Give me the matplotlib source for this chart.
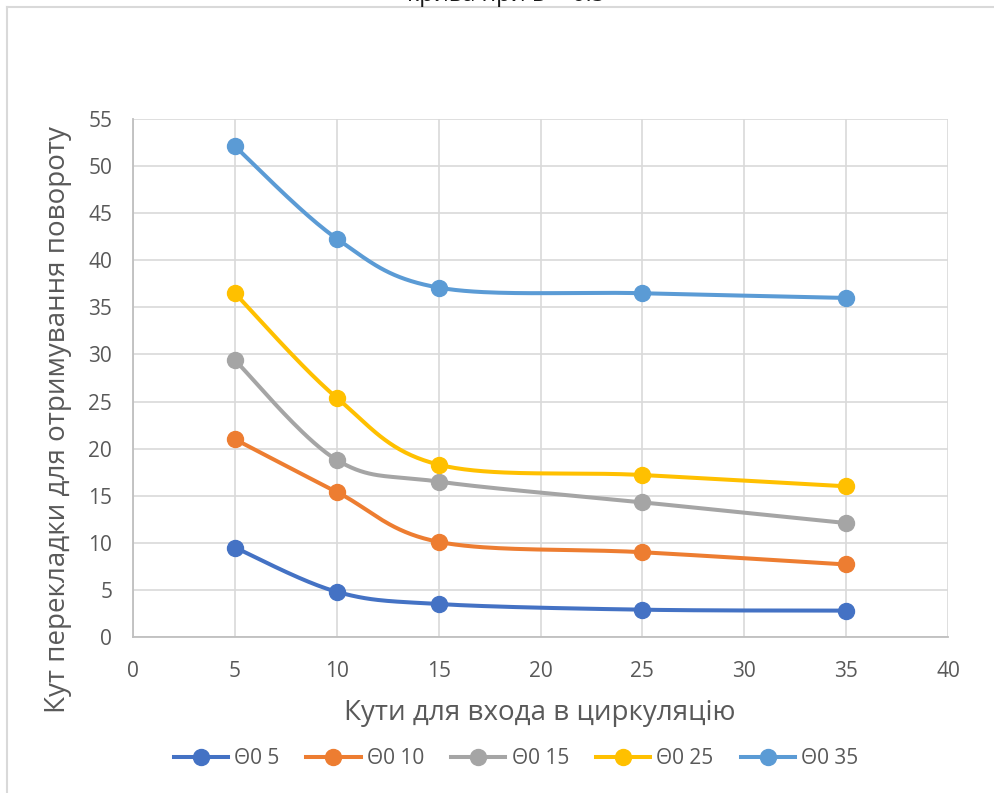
import numpy as np
import matplotlib
matplotlib.use("Agg")
import matplotlib.pyplot as plt
from matplotlib.lines import Line2D

plt.rcParams['font.family'] = ['Open Sans', 'DejaVu Sans']

# circulation entry angles and the resulting shift angle per initial theta
x_angles = [5, 10, 15, 25, 35]
theta_5 = [9.5, 4.8, 3.5, 2.9, 2.8]
theta_10 = [21.0, 15.4, 10.1, 9.0, 7.7]
theta_15 = [29.4, 18.8, 16.5, 14.3, 12.1]
theta_25 = [36.5, 25.4, 18.3, 17.2, 16.0]
theta_35 = [52.1, 42.3, 37.1, 36.5, 36.0]

series_names = ["Θ0 5", "Θ0 10", "Θ0 15", "Θ0 25", "Θ0 35"]
series_vals = [theta_5, theta_10, theta_15, theta_25, theta_35]
colors = ["#4472C4", "#ED7D31", "#A5A5A5", "#FFC000", "#5B9BD5"]

TXT = "#595959"
GRID = "#D9D9D9"
W, H = 995, 793


def smooth(xs, ys, n=40):
    # Catmull-Rom style bezier smoothing through every point
    xs = np.asarray(xs, float)
    ys = np.asarray(ys, float)
    px = np.concatenate([[xs[0]], xs, [xs[-1]]])
    py = np.concatenate([[ys[0]], ys, [ys[-1]]])
    out_x, out_y = [], []
    t = np.linspace(0, 1, n)
    for i in range(1, len(px) - 2):
        p0 = np.array([px[i], py[i]])
        p3 = np.array([px[i + 1], py[i + 1]])
        c1 = p0 + (p3 - np.array([px[i - 1], py[i - 1]])) / 6
        c2 = p3 - (np.array([px[i + 2], py[i + 2]]) - p0) / 6
        b = ((1 - t) ** 3)[:, None] * p0 + (3 * (1 - t) ** 2 * t)[:, None] * c1 \
            + (3 * (1 - t) * t ** 2)[:, None] * c2 + (t ** 3)[:, None] * p3
        out_x.extend(b[:, 0])
        out_y.extend(b[:, 1])
    return out_x, out_y


fig = plt.figure(figsize=(W / 100, H / 100), dpi=100)
ax = fig.add_axes([133 / W, 1 - 637 / H, (948 - 133) / W, (637 - 119) / H])

for name, vals, c in zip(series_names, series_vals, colors):
    sx, sy = smooth(x_angles, vals)
    ax.plot(sx, sy, color=c, lw=2.9, solid_capstyle='round', zorder=3)
    ax.plot(x_angles, vals, 'o', color=c, ms=11.5, zorder=4)

ax.set_xlim(0, 40)
ax.set_ylim(0, 55)
ax.set_xticks(range(0, 41, 5))
ax.set_yticks(range(0, 56, 5))
ax.grid(True, color=GRID, lw=1.2)
ax.set_axisbelow(True)
for s in ["top", "right"]:
    ax.spines[s].set_visible(False)
for s in ["left", "bottom"]:
    ax.spines[s].set_color("#BFBFBF")
    ax.spines[s].set_linewidth(1.3)
ax.tick_params(length=0, labelsize=15, colors=TXT)
ax.tick_params(axis='x', pad=17)
ax.tick_params(axis='y', pad=15)

# axis titles
fig.text(540 / W, 1 - 713 / H, "Кути для входа в циркуляцію", fontsize=20, color=TXT,
         ha='center', va='center')
fig.text(58 / W, 1 - 420 / H, "Кут перекладки для отримування повороту", fontsize=20,
         color=TXT, ha='center', va='center', rotation=90)

handles = [Line2D([0], [0], color=c, lw=2.9, marker='o', ms=11.5) for c in colors]
fig.legend(handles, series_names, loc='center', bbox_to_anchor=(516 / W, 1 - 759 / H),
           ncol=5, frameon=False, fontsize=15, labelcolor=TXT,
           handlelength=2.6, columnspacing=1.3, handletextpad=0.3)

# chart frame edges and the clipped caption above it
fig.add_artist(Line2D([7 / W, 1], [1 - 7 / H, 1 - 7 / H], color=GRID, lw=1.5))
fig.add_artist(Line2D([7 / W, 7 / W], [0, 1 - 7 / H], color=GRID, lw=1.5))
fig.text(506 / W, 1 - 1 / H, "крива при Б = 0.5", fontsize=17, color="#1A1A1A",
         ha='center', va='baseline')

fig.savefig("out.png", dpi=100)
